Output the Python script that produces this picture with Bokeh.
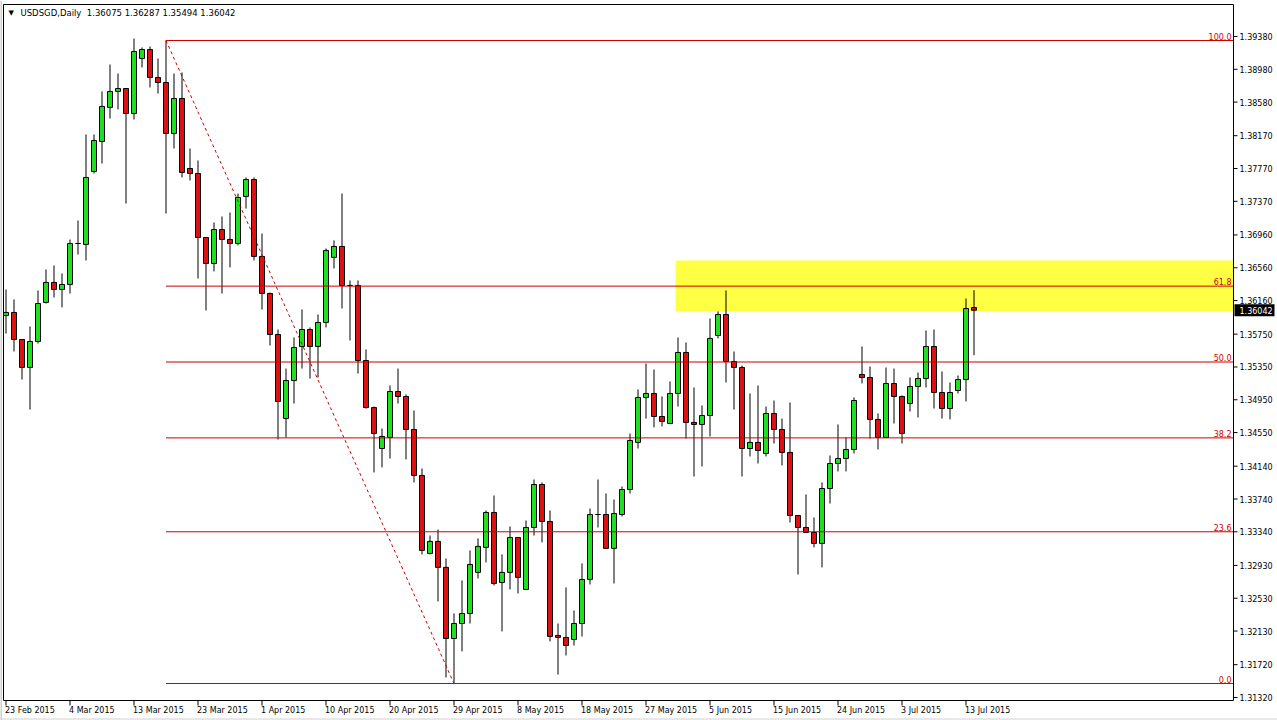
import numpy as np
from bokeh.plotting import figure
from bokeh.models import ColumnDataSource, Range1d
from bokeh.core.properties import value
from bokeh.embed import file_html
from bokeh.resources import INLINE

# ---------------- data ----------------
symbol = "USDSGD"
timeframe = "Daily"

opens = [1.35978, 1.36015, 1.35685, 1.35344, 1.35661, 1.36137, 1.36381, 1.36295, 1.36356, 1.36856,
         1.36844, 1.37734, 1.38100, 1.38515, 1.38710, 1.38745, 1.38441, 1.39111, 1.39221, 1.38880,
         1.38819, 1.38197, 1.38624, 1.37770, 1.37709, 1.36929, 1.36612, 1.37026, 1.36905, 1.36856,
         1.37429, 1.37636, 1.36698, 1.36246, 1.35746, 1.34721, 1.35185, 1.35600, 1.35807, 1.35600,
         1.35893, 1.36686, 1.36820, 1.36344, 1.36344, 1.35429, 1.34855, 1.34356, 1.34491, 1.35051,
         1.34990, 1.34588, 1.34027, 1.33076, 1.33223, 1.32906, 1.32039, 1.32222, 1.32344, 1.32845,
         1.33150, 1.33576, 1.32722, 1.32845, 1.33271, 1.32637, 1.33393, 1.33917, 1.33466, 1.32076,
         1.32052, 1.32027, 1.32222, 1.32759, 1.33551, 1.33551, 1.33138, 1.33551, 1.33856, 1.34430,
         1.34978, 1.35027, 1.34746, 1.34661, 1.35027, 1.35527, 1.34674, 1.34649, 1.34758, 1.35734,
         1.35990, 1.35417, 1.35344, 1.34356, 1.34430, 1.34295, 1.34783, 1.34588, 1.34308, 1.33539,
         1.33393, 1.33332, 1.33198, 1.33868, 1.34173, 1.34234, 1.34344, 1.35258, 1.35222, 1.34710,
         1.34491, 1.35149, 1.34990, 1.34905, 1.35112, 1.35209, 1.35600, 1.35039, 1.34843, 1.35063,
         1.35197, 1.36075]
highs = [1.36295, 1.36173, 1.35685, 1.35844, 1.36283, 1.36539, 1.36588, 1.36490, 1.36904, 1.37136,
         1.38185, 1.38185, 1.38710, 1.39038, 1.38928, 1.38745, 1.39355, 1.39246, 1.39258, 1.39111,
         1.39331, 1.38928, 1.38941, 1.38014, 1.37868, 1.36929, 1.37112, 1.37185, 1.37234, 1.37465,
         1.37661, 1.37661, 1.36977, 1.36258, 1.35807, 1.35331, 1.35710, 1.36051, 1.35832, 1.35990,
         1.36795, 1.36893, 1.37465, 1.36405, 1.36405, 1.35563, 1.34868, 1.34600, 1.35124, 1.35331,
         1.35015, 1.34819, 1.34112, 1.33295, 1.33368, 1.33015, 1.32344, 1.32747, 1.33113, 1.33259,
         1.33600, 1.33783, 1.33064, 1.33405, 1.33271, 1.33478, 1.33978, 1.33942, 1.33600, 1.32222,
         1.32662, 1.32381, 1.32954, 1.33624, 1.33978, 1.33807, 1.33734, 1.33893, 1.34539, 1.35075,
         1.35392, 1.35319, 1.34990, 1.35173, 1.35710, 1.35649, 1.35100, 1.34880, 1.35941, 1.36027,
         1.36283, 1.35539, 1.35368, 1.35027, 1.35124, 1.34868, 1.34941, 1.34721, 1.34917, 1.33539,
         1.33795, 1.33515, 1.33942, 1.34271, 1.34649, 1.34491, 1.34978, 1.35600, 1.35356, 1.34783,
         1.35344, 1.35331, 1.35003, 1.35222, 1.35283, 1.35795, 1.35807, 1.35295, 1.35161, 1.35246,
         1.36185, 1.36287]
lows = [1.35758, 1.35539, 1.35197, 1.34831, 1.35636, 1.36124, 1.36198, 1.36076, 1.36246, 1.36722,
        1.36649, 1.37709, 1.37831, 1.38380, 1.38490, 1.37343, 1.38368, 1.39002, 1.38758, 1.38685,
        1.37221, 1.38014, 1.37661, 1.37624, 1.36429, 1.36039, 1.36515, 1.36246, 1.36564, 1.36832,
        1.37282, 1.36649, 1.36051, 1.35612, 1.34466, 1.34491, 1.34904, 1.35331, 1.35209, 1.35222,
        1.35832, 1.36551, 1.36063, 1.35673, 1.35270, 1.34843, 1.34064, 1.34125, 1.34234, 1.34904,
        1.34222, 1.33942, 1.33064, 1.33064, 1.32491, 1.31564, 1.31490, 1.31881, 1.32222, 1.32771,
        1.32967, 1.32686, 1.32125, 1.32637, 1.32588, 1.32637, 1.33295, 1.33211, 1.32003, 1.31600,
        1.31832, 1.31954, 1.32064, 1.32698, 1.33393, 1.33138, 1.32710, 1.33527, 1.33807, 1.34356,
        1.34721, 1.34613, 1.34625, 1.34661, 1.34868, 1.34478, 1.34015, 1.34137, 1.34503, 1.35698,
        1.35161, 1.34831, 1.34015, 1.34259, 1.34173, 1.34259, 1.34417, 1.34149, 1.33454, 1.32820,
        1.33332, 1.33150, 1.32906, 1.33685, 1.34076, 1.34076, 1.34295, 1.35149, 1.34478, 1.34344,
        1.34491, 1.34661, 1.34417, 1.34807, 1.34734, 1.35100, 1.34843, 1.34721, 1.34710, 1.35027,
        1.34929, 1.35494]
closes = [1.36015, 1.35685, 1.35344, 1.35661, 1.36124, 1.36381, 1.36295, 1.36356, 1.36856, 1.36856,
          1.37661, 1.38112, 1.38527, 1.38710, 1.38745, 1.38441, 1.39197, 1.39221, 1.38880, 1.38819,
          1.38197, 1.38624, 1.37722, 1.37709, 1.36929, 1.36612, 1.37026, 1.36905, 1.36856, 1.37417,
          1.37636, 1.36698, 1.36246, 1.35746, 1.34929, 1.35185, 1.35588, 1.35807, 1.35600, 1.35893,
          1.36771, 1.36820, 1.36344, 1.36344, 1.35429, 1.34855, 1.34539, 1.34503, 1.35051, 1.34990,
          1.34588, 1.34027, 1.33113, 1.33223, 1.32906, 1.32039, 1.32222, 1.32344, 1.32942, 1.33162,
          1.33576, 1.32710, 1.32845, 1.33271, 1.32784, 1.33393, 1.33917, 1.33466, 1.32064, 1.32052,
          1.31954, 1.32222, 1.32759, 1.33551, 1.33551, 1.33138, 1.33563, 1.33856, 1.34454, 1.34978,
          1.35027, 1.34746, 1.34686, 1.35027, 1.35527, 1.34674, 1.34649, 1.34758, 1.35698, 1.35990,
          1.35417, 1.35344, 1.34356, 1.34430, 1.34332, 1.34783, 1.34588, 1.34308, 1.33539, 1.33393,
          1.33332, 1.33198, 1.33868, 1.34173, 1.34234, 1.34344, 1.34941, 1.35222, 1.34710, 1.34491,
          1.35149, 1.34990, 1.34539, 1.35112, 1.35209, 1.35600, 1.35039, 1.34843, 1.35039, 1.35197,
          1.36063, 1.36042]

label_bars = [0, 8, 16, 24, 32, 40, 48, 56, 64, 72, 80, 88, 96, 104, 112, 120]
date_labels = ["23 Feb 2015", "4 Mar 2015", "13 Mar 2015", "23 Mar 2015", "1 Apr 2015",
               "10 Apr 2015", "20 Apr 2015", "29 Apr 2015", "8 May 2015", "18 May 2015",
               "27 May 2015", "5 Jun 2015", "15 Jun 2015", "24 Jun 2015", "3 Jul 2015",
               "13 Jul 2015"]
price_ticks = [1.39380, 1.38980, 1.38580, 1.38170, 1.37770, 1.37370, 1.36960, 1.36560,
               1.36160, 1.35750, 1.35350, 1.34950, 1.34550, 1.34140, 1.33740, 1.33340,
               1.32930, 1.32530, 1.32130, 1.31720, 1.31320]

fib_start_bar = 20
fib_end_bar = 56
fib_high = 1.39331
fib_low = 1.31490
fib_levels = [0.0, 23.6, 38.2, 50.0, 61.8, 100.0]

zone_start_bar = 83.7
zone_top = 1.36649
zone_bottom = 1.36027

# ---------------- layout (pixel geometry of the MT4-style window) ----------------
W, H = 1277, 720
CHART_L, CHART_T, CHART_R, CHART_B = 3, 4, 1233, 700   # chart box edges, px
BAR_PX = 8.0            # horizontal spacing of bars
BAR0_PX = 5.5           # screen x of the first bar
PRICE_AT_TOP = 1.39770  # price at the top edge of the chart box
PRICE_AT_BOTTOM = 1.31283  # price at the bottom edge of the chart box
price_per_px = (PRICE_AT_TOP - PRICE_AT_BOTTOM) / (CHART_B - CHART_T)


def px_x(px):
    return (px - BAR0_PX) / BAR_PX


def px_y(py):
    return PRICE_AT_TOP - (py - CHART_T) * price_per_px


x_start, x_end = px_x(0), px_x(W)
y_start, y_end = px_y(H), px_y(0)

BULL = "#1fe01f"
BEAR = "#dd1111"
FIB = "#cc0000"
FONT = "DejaVu Sans"

p = figure(width=W, height=H, title=None,
           x_range=Range1d(x_start, x_end), y_range=Range1d(y_start, y_end),
           x_axis_location=None, y_axis_location=None,
           output_backend="svg", toolbar_location=None,
           min_border=0, min_border_left=0, min_border_right=0,
           min_border_top=0, min_border_bottom=0)
p.background_fill_color = "white"
p.border_fill_color = "white"
p.outline_line_color = None
p.grid.visible = False

cl, cr = px_x(CHART_L), px_x(CHART_R)
ct, cb = px_y(CHART_T), px_y(CHART_B)

# zone (background)
p.quad(left=[zone_start_bar], right=[cr], top=[zone_top], bottom=[zone_bottom],
       fill_color="#ffff44", line_color=None)

# candles
o = np.array(opens)
c = np.array(closes)
idx = np.arange(len(opens))
colors = [BULL if cc > oo else (BEAR if cc < oo else "black") for oo, cc in zip(o, c)]
src = ColumnDataSource(dict(x=idx, high=highs, low=lows,
                            top=np.maximum(o, c), bottom=np.minimum(o, c), color=colors))
p.segment(x0="x", y0="high", x1="x", y1="low", source=src, line_color="black", line_width=1)
p.vbar(x="x", width=5 / BAR_PX, top="top", bottom="bottom", source=src,
       fill_color="color", line_color="black", line_width=1)

# fibonacci retracement
fib_prices = [fib_low + (fib_high - fib_low) * lv / 100.0 for lv in fib_levels]
n = len(fib_prices)
p.segment(x0=[fib_start_bar] * n, y0=fib_prices, x1=[cr] * n, y1=fib_prices,
          line_color=FIB, line_width=1)
p.line(x=[fib_start_bar, fib_end_bar], y=[fib_high, fib_low], line_color=FIB,
       line_width=1, line_dash="3 3")
p.text(x=[px_x(1231)] * n, y=fib_prices, text=[f"{lv:.1f}" for lv in fib_levels],
       text_align="right", text_baseline="bottom", y_offset=-1, text_color=FIB,
       text_font=value(FONT), text_font_size=value("8px"))

# chart box
p.line(x=[cl, cr, cr, cl, cl], y=[ct, ct, cb, cb, ct], line_color="black", line_width=1)
# window frame (light grey)
p.line(x=[px_x(0.5), px_x(0.5)], y=[y_start, y_end], line_color="#a0a0a0", line_width=1)
p.line(x=[x_start, x_end], y=[px_y(718.5), px_y(718.5)], line_color="#d0d0d0", line_width=1)

# header
header = f"{symbol},{timeframe}\u00a0\u00a0{opens[-1]:.5f} {highs[-1]:.5f} {lows[-1]:.5f} {closes[-1]:.5f}"
p.text(x=[px_x(20)], y=[px_y(12)], text=[header], text_align="left", text_baseline="middle",
       text_color="black", text_font=value(FONT), text_font_size=value("8.5px"))
p.text(x=[px_x(8)], y=[px_y(12)], text=["\u25BC"], text_align="left", text_baseline="middle",
       text_color="black", text_font=value(FONT), text_font_size=value("7px"))

# price scale (right)
m = len(price_ticks)
p.segment(x0=[cr] * m, y0=price_ticks, x1=[px_x(CHART_R + 4)] * m, y1=price_ticks,
          line_color="black", line_width=1)
p.text(x=[px_x(CHART_R + 6)] * m, y=price_ticks, text=[f"{t:.5f}" for t in price_ticks],
       text_align="left", text_baseline="middle", text_color="black",
       text_font=value(FONT), text_font_size=value("8px"))

# current price marker
p.quad(left=[px_x(CHART_R + 1)], right=[px_x(CHART_R + 41)],
       top=[closes[-1] + 6 * price_per_px], bottom=[closes[-1] - 6 * price_per_px],
       fill_color="black", line_color=None)
p.text(x=[px_x(CHART_R + 6)], y=[closes[-1]], text=[f"{closes[-1]:.5f}"],
       text_align="left", text_baseline="middle", text_color="white",
       text_font=value(FONT), text_font_size=value("8px"))

# time scale (bottom)
k = len(label_bars)
p.segment(x0=label_bars, y0=[cb] * k, x1=label_bars, y1=[px_y(CHART_B + 5)] * k,
          line_color="black", line_width=1)
p.text(x=label_bars, y=[px_y(710)] * k, text=date_labels, x_offset=-1,
       text_align="left", text_baseline="middle", text_color="black",
       text_font=value(FONT), text_font_size=value("8px"))

open("out.html", "w").write(file_html(p, INLINE))
